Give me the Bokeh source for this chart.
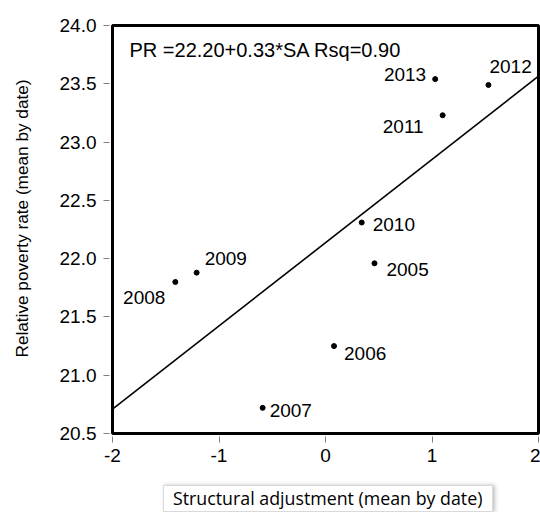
import numpy as np
from bokeh.plotting import figure
from bokeh.layouts import column
from bokeh.models import (ColumnDataSource, LabelSet, Label, Range1d, Div, Title,
                          SingleIntervalTicker, NumeralTickFormatter)
from bokeh.core.properties import value
from bokeh.embed import file_html
from bokeh.resources import INLINE

# ---- data ----
years = ["2005", "2006", "2007", "2008", "2009", "2010", "2011", "2012", "2013"]
sa = [0.46, 0.08, -0.59, -1.41, -1.21, 0.34, 1.10, 1.53, 1.03]
pr = [21.96, 21.25, 20.72, 21.80, 21.88, 22.31, 23.23, 23.49, 23.54]
equation_text = "PR =22.20+0.33*SA Rsq=0.90"
x_title = "Structural adjustment (mean by date)"
y_title = "Relative poverty rate (mean by date)"

# label placement (style only)
label_style = {
    "2005": ("left", 12, -13), "2006": ("left", 10, -14), "2007": ("left", 7, -9),
    "2008": ("right", -10, -22), "2009": ("left", 8, 8), "2010": ("left", 11, -8),
    "2011": ("right", -19, -18), "2012": ("left", 1, 12), "2013": ("right", -9, -2),
}

FONT = "Liberation Sans"
FS = "19px"

x_lo, x_hi = -2, 2
y_lo, y_hi = 20.5, 24.0

p = figure(width=540, height=473, output_backend="svg", toolbar_location=None,
           x_range=Range1d(x_lo, x_hi), y_range=Range1d(y_lo, y_hi),
           min_border_left=112, min_border_right=2, min_border_top=25,
           min_border_bottom=40)
p.background_fill_color = "white"
p.border_fill_color = "white"
p.outline_line_color = "black"
p.outline_line_width = 3
p.grid.visible = False

for ax in (p.xaxis[0], p.yaxis[0]):
    ax.axis_line_color = None
    ax.major_tick_line_color = "#808080"
    ax.major_tick_line_width = 1
    ax.major_tick_in = -3
    ax.major_tick_out = 9
    ax.minor_tick_line_color = None
    ax.major_label_text_font = FONT
    ax.major_label_text_font_size = FS
    ax.major_label_text_color = "black"

p.xaxis.ticker = SingleIntervalTicker(interval=1)
p.xaxis.formatter = NumeralTickFormatter(format="0")
p.xaxis.major_label_standoff = 6
p.yaxis.ticker = SingleIntervalTicker(interval=0.5)
p.yaxis.formatter = NumeralTickFormatter(format="0.0")
p.yaxis.major_label_standoff = 7
# blank axis label only reserves space between tick labels and the title
p.yaxis.axis_label = " "
p.yaxis.axis_label_text_font_size = "1px"
p.yaxis.axis_label_standoff = 15

# y-axis title as a side-panel title, starting a little above the frame bottom
p.add_layout(Title(text=y_title, align="left", offset=76, standoff=12,
                   vertical_align="bottom",
                   text_font=FONT, text_font_size="17.2px",
                   text_font_style="normal", text_color="black"), "left")

# regression line fitted from the data
slope, intercept = np.polyfit(sa, pr, 1)
lx = [x_lo, x_hi]
ly = [intercept + slope * v for v in lx]
p.line(lx, ly, line_color="black", line_width=1.6)

src = ColumnDataSource(dict(x=sa, y=pr))
p.scatter("x", "y", source=src, size=5, fill_color="black", line_color="black")

for al in ("left", "right"):
    idx = [i for i, y in enumerate(years) if label_style[y][0] == al]
    s = ColumnDataSource(dict(
        x=[sa[i] for i in idx], y=[pr[i] for i in idx],
        year=[years[i] for i in idx],
        xo=[label_style[years[i]][1] for i in idx],
        yo=[label_style[years[i]][2] for i in idx]))
    p.add_layout(LabelSet(x="x", y="y", text="year", source=s,
                          x_offset="xo", y_offset="yo", text_align=al,
                          text_baseline="alphabetic", text_font=value(FONT),
                          text_font_size=value(FS), text_color="black"))

p.add_layout(Label(x=x_lo, y=y_hi, x_offset=17, y_offset=-24, text=equation_text,
                   text_font=FONT, text_font_size="20px", text_color="black",
                   text_baseline="alphabetic", text_align="left"))

xlab = Div(text=x_title, width=330, height=27, margin=(12, 0, 0, 163),
           styles={"border": "1px solid #d9d9d9",
                   "box-shadow": "2px 0px 4px rgba(0,0,0,0.25)",
                   "box-sizing": "border-box",
                   "padding": "0px 0 0 9px",
                   "font-family": "Open Sans",
                   "font-size": "17.8px",
                   "color": "black",
                   "background": "white",
                   "white-space": "nowrap",
                   "overflow": "hidden"})

layout = column(p, xlab, spacing=0)
open("out.html", "w").write(file_html(layout, INLINE))
